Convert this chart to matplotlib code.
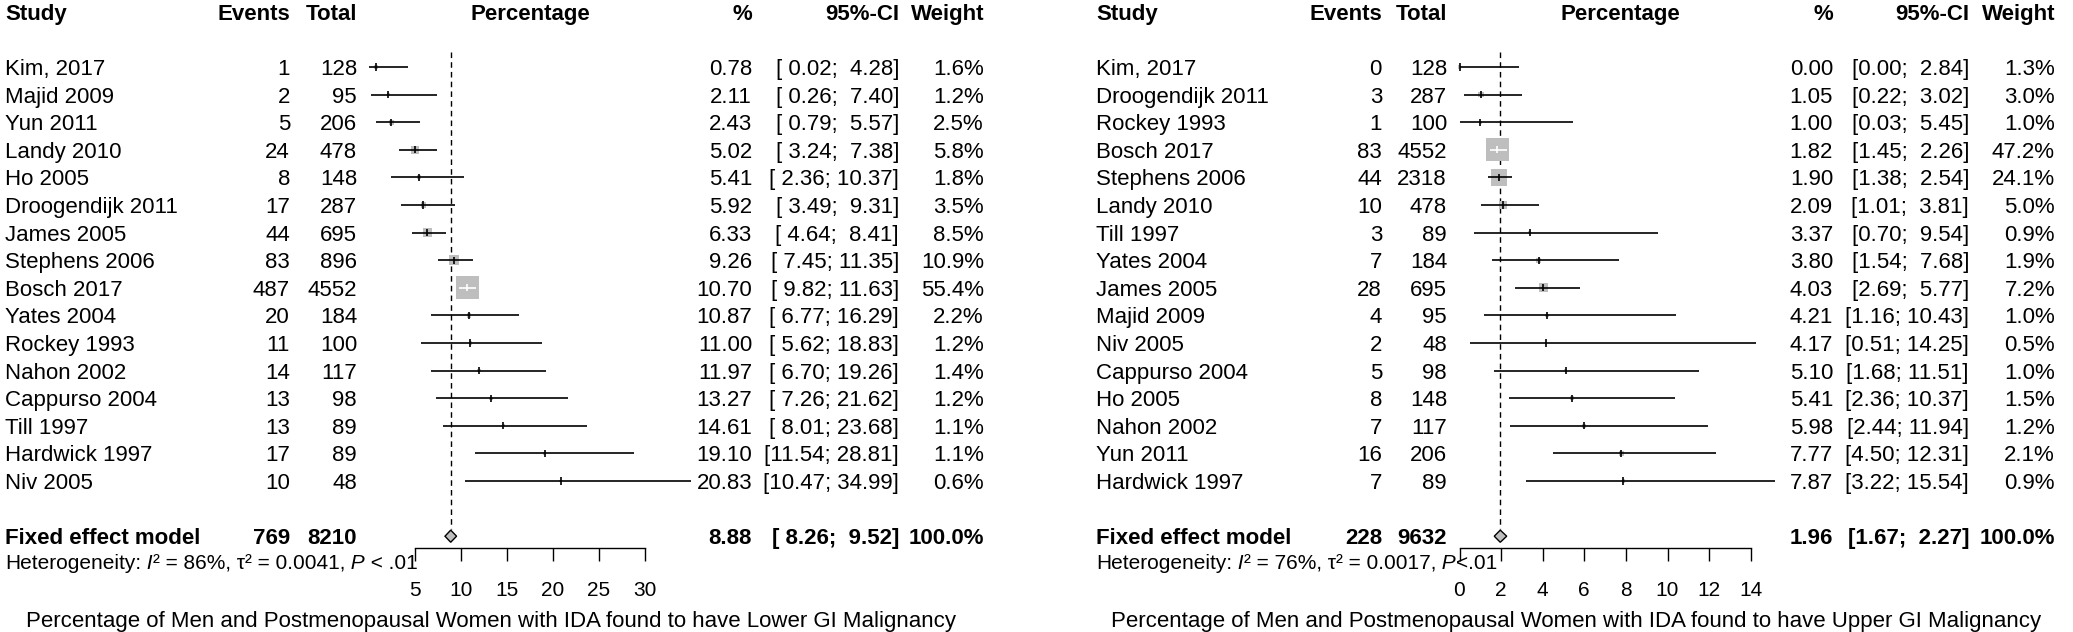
import numpy as np
import matplotlib.pyplot as plt
from matplotlib.transforms import blended_transform_factory
from matplotlib.patches import Polygon
from matplotlib.offsetbox import TextArea, HPacker, AnnotationBbox

plt.rcParams['font.family'] = ['Liberation Sans', 'DejaVu Sans']

# ---- lower GI data ----
studies_lower = ["Kim, 2017", "Majid 2009", "Yun 2011", "Landy 2010", "Ho 2005",
                 "Droogendijk 2011", "James 2005", "Stephens 2006", "Bosch 2017",
                 "Yates 2004", "Rockey 1993", "Nahon 2002", "Cappurso 2004",
                 "Till 1997", "Hardwick 1997", "Niv 2005"]
events_lower = [1, 2, 5, 24, 8, 17, 44, 83, 487, 20, 11, 14, 13, 13, 17, 10]
total_lower = [128, 95, 206, 478, 148, 287, 695, 896, 4552, 184, 100, 117, 98, 89, 89, 48]
pct_lower = [0.78, 2.11, 2.43, 5.02, 5.41, 5.92, 6.33, 9.26, 10.70, 10.87, 11.00,
             11.97, 13.27, 14.61, 19.10, 20.83]
lo_lower = [0.02, 0.26, 0.79, 3.24, 2.36, 3.49, 4.64, 7.45, 9.82, 6.77, 5.62,
            6.70, 7.26, 8.01, 11.54, 10.47]
hi_lower = [4.28, 7.40, 5.57, 7.38, 10.37, 9.31, 8.41, 11.35, 11.63, 16.29, 18.83,
            19.26, 21.62, 23.68, 28.81, 34.99]
w_lower = [1.6, 1.2, 2.5, 5.8, 1.8, 3.5, 8.5, 10.9, 55.4, 2.2, 1.2, 1.4, 1.2, 1.1, 1.1, 0.6]
fixed_lower = (769, 8210, 8.88, 8.26, 9.52)
het_lower = ("86%", "0.0041", " < .01")
ticks_lower = [5, 10, 15, 20, 25, 30]
xlabel_lower = "Percentage of Men and Postmenopausal Women with IDA found to have Lower GI Malignancy"

# ---- upper GI data ----
studies_upper = ["Kim, 2017", "Droogendijk 2011", "Rockey 1993", "Bosch 2017",
                 "Stephens 2006", "Landy 2010", "Till 1997", "Yates 2004",
                 "James 2005", "Majid 2009", "Niv 2005", "Cappurso 2004",
                 "Ho 2005", "Nahon 2002", "Yun 2011", "Hardwick 1997"]
events_upper = [0, 3, 1, 83, 44, 10, 3, 7, 28, 4, 2, 5, 8, 7, 16, 7]
total_upper = [128, 287, 100, 4552, 2318, 478, 89, 184, 695, 95, 48, 98, 148, 117, 206, 89]
pct_upper = [0.00, 1.05, 1.00, 1.82, 1.90, 2.09, 3.37, 3.80, 4.03, 4.21, 4.17,
             5.10, 5.41, 5.98, 7.77, 7.87]
lo_upper = [0.00, 0.22, 0.03, 1.45, 1.38, 1.01, 0.70, 1.54, 2.69, 1.16, 0.51,
            1.68, 2.36, 2.44, 4.50, 3.22]
hi_upper = [2.84, 3.02, 5.45, 2.26, 2.54, 3.81, 9.54, 7.68, 5.77, 10.43, 14.25,
            11.51, 10.37, 11.94, 12.31, 15.54]
w_upper = [1.3, 3.0, 1.0, 47.2, 24.1, 5.0, 0.9, 1.9, 7.2, 1.0, 0.5, 1.0, 1.5, 1.2, 2.1, 0.9]
fixed_upper = (228, 9632, 1.96, 1.67, 2.27)
het_upper = ("76%", "0.0017", "<.01")
ticks_upper = [0, 2, 4, 6, 8, 10, 12, 14]
xlabel_upper = "Percentage of Men and Postmenopausal Women with IDA found to have Upper GI Malignancy"

W, H = 2073, 632
ROW0, ROWH = 67, 27.6
FS = 16
FS_SMALL = 15
GREY = '#BEBEBE'
BASE = 0.29  # baseline offset (rows) so text is centred on a row


def draw_panel(fig, box, xlim, cols, studies, events, total, pct, lo, hi, w,
               fixed, het, ticks, xlabel, ci_fmt):
    ax = fig.add_axes([box[0] / W, 0, (box[1] - box[0]) / W, 1])
    ax.set_xlim(xlim)
    ax.set_ylim((H - ROW0) / ROWH, -ROW0 / ROWH)
    ax.patch.set_visible(False)
    for s in ['top', 'left', 'right']:
        ax.spines[s].set_visible(False)
    ax.spines['bottom'].set_position(('data', 17.43))
    ax.spines['bottom'].set_bounds(ticks[0], ticks[-1])
    ax.spines['bottom'].set_linewidth(1)
    ax.set_yticks([])
    ax.set_xticks(ticks)
    ax.set_xticklabels([str(t) for t in ticks])
    ax.tick_params(axis='x', direction='out', length=9.5, width=1, pad=14,
                   labelsize=FS_SMALL)

    y = np.arange(len(studies))
    scale = (box[1] - box[0]) / (xlim[1] - xlim[0])  # px per unit
    side = 23 * np.sqrt(np.array(w) / max(w))
    ax.scatter(pct, y, marker='s', s=(side * 0.72) ** 2, color=GREY, linewidths=0, zorder=2)
    for i in range(len(studies)):
        inside = (hi[i] - lo[i]) * scale <= side[i]
        c = 'white' if inside else 'black'
        ax.hlines(y[i], lo[i], hi[i], color=c, lw=1.2, zorder=3)
        ax.vlines(pct[i], y[i] - 0.13, y[i] + 0.13, color=c, lw=1.2, zorder=3)

    ev, tot, est, flo, fhi = fixed
    yf = 17
    ax.add_patch(Polygon([(flo, yf), (est, yf - 0.22), (fhi, yf), (est, yf + 0.22)],
                         closed=True, fc=GREY, ec='black', lw=1, zorder=3))
    ax.vlines(est, -0.55, 16.75, color='black', lw=1, linestyles=(0, (4, 3)), zorder=1)

    tr = blended_transform_factory(fig.transFigure, ax.transData)
    x_study, x_ev, x_tot, x_perc, x_pct, x_ci, x_w, x_lab = [c / W for c in cols]

    def txt(x, row, s, ha, bold=False, size=FS):
        ax.text(x, row + BASE, s, transform=tr, ha=ha, va='baseline', fontsize=size,
                fontweight='bold' if bold else 'normal', clip_on=False)

    hdr = -2
    txt(x_study, hdr, "Study", 'left', True)
    txt(x_ev, hdr, "Events", 'right', True)
    txt(x_tot, hdr, "Total", 'right', True)
    txt(x_perc, hdr, "Percentage", 'center', True)
    txt(x_pct, hdr, "%", 'right', True)
    txt(x_ci, hdr, "95%-CI", 'right', True)
    txt(x_w, hdr, "Weight", 'right', True)

    for i in range(len(studies)):
        txt(x_study, y[i], studies[i], 'left')
        txt(x_ev, y[i], str(events[i]), 'right')
        txt(x_tot, y[i], str(total[i]), 'right')
        txt(x_pct, y[i], "%.2f" % pct[i], 'right')
        txt(x_ci, y[i], ci_fmt.format(lo[i], hi[i]), 'right')
        txt(x_w, y[i], "%.1f%%" % w[i], 'right')

    txt(x_study, yf, "Fixed effect model", 'left', True)
    txt(x_ev, yf, str(ev), 'right', True)
    txt(x_tot, yf, str(tot), 'right', True)
    txt(x_pct, yf, "%.2f" % est, 'right', True)
    txt(x_ci, yf, ci_fmt.format(flo, fhi), 'right', True)
    txt(x_w, yf, "100.0%", 'right', True)

    # heterogeneity line, italic I and P, pieces packed side by side
    i2, tau2, pval = het
    parts = [("Heterogeneity:", 'normal'), (" I", 'italic'),
             ("\u00b2 = %s, \u03c4\u00b2 = %s," % (i2, tau2), 'normal'),
             (" P", 'italic'), (pval, 'normal')]
    areas = [TextArea(s, textprops=dict(fontsize=FS_SMALL, fontstyle=st)) for s, st in parts]
    pack = HPacker(children=areas, align='baseline', pad=0, sep=0)
    ab = AnnotationBbox(pack, (x_study, 18), xycoords=tr, box_alignment=(0, 0.5),
                        frameon=False, pad=0, annotation_clip=False)
    ax.add_artist(ab)

    txt(x_lab, 20, xlabel, 'center')
    return ax


fig = plt.figure(figsize=(W / 100, H / 100), dpi=100)

# left panel: 5 at x=415 px, 9.2 px per unit
draw_panel(fig, (355, 700), (5 + (355 - 415) / 9.2, 5 + (700 - 415) / 9.2),
           [5, 290, 357, 530, 752, 899, 984, 491],
           studies_lower, events_lower, total_lower, pct_lower, lo_lower, hi_lower,
           w_lower, fixed_lower, het_lower, ticks_lower, xlabel_lower,
           "[{:5.2f}; {:5.2f}]")

# right panel: 0 at x=1459.5 px, 20.8 px per unit
draw_panel(fig, (1440, 1775), ((1440 - 1459.5) / 20.8, (1775 - 1459.5) / 20.8),
           [1096, 1382, 1447, 1620, 1833, 1969, 2055, 1576],
           studies_upper, events_upper, total_upper, pct_upper, lo_upper, hi_upper,
           w_upper, fixed_upper, het_upper, ticks_upper, xlabel_upper,
           "[{:4.2f}; {:5.2f}]")

fig.savefig("out.png", dpi=100)
